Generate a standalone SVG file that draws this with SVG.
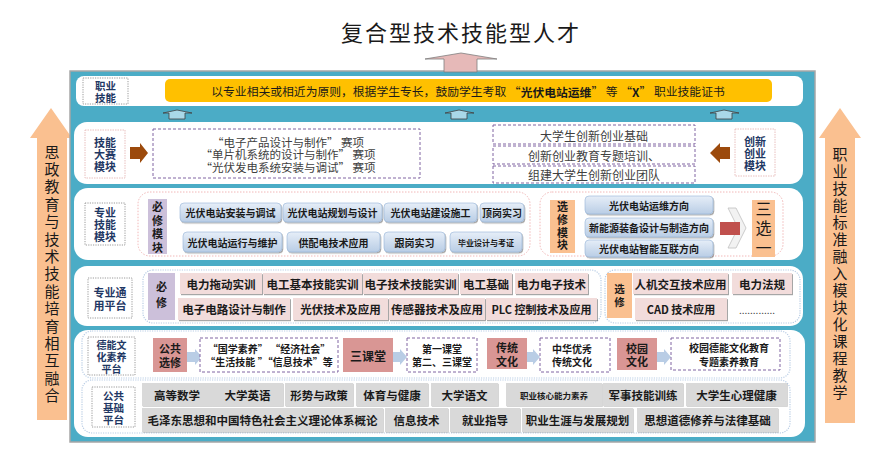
<svg xmlns="http://www.w3.org/2000/svg" width="872" height="455" viewBox="0 0 872 455">
<defs>
<style>
text{font-family:"Noto Sans CJK SC","Noto Sans",sans-serif;text-anchor:middle;dominant-baseline:central;fill:#1a1a1a}
text.v{writing-mode:vertical-rl;text-anchor:start}
.b{font-weight:700}
.nv{fill:#1F3864;font-weight:700}
.g4{fill:#404040}
.band{fill:#fff}
.lbl{fill:#fff;stroke:#808080;stroke-width:0.8;stroke-dasharray:1.2 1.2}
.lblp{fill:#fff;stroke:#E6B9B8;stroke-width:0.9;stroke-dasharray:1.5 1}
.dp{fill:#fff;stroke:#8064A2;stroke-width:1;stroke-dasharray:3 2}
.pk{fill:none;stroke:#F2B8B8;stroke-width:1;stroke-dasharray:1.5 1.5}
.bl{fill:none;stroke:#B9CDE5;stroke-width:1.2;stroke-dasharray:1.2 1.2}
.bb{fill:url(#gb);stroke:#95B3D7;stroke-width:0.6;filter:url(#sh)}
.pb{fill:#F2DCDB;filter:url(#sh)}
.gr{fill:#D9D9D9;filter:url(#sh2)}
.pur{fill:#CCC0DA}
.org{fill:#FAC090}
.red{fill:#D99694}
.ua{fill:#A9D8E8;stroke:#404040;stroke-width:0.8}
.ra{fill:#B9CDE5}
.br{fill:#9C4A0C}
</style>
<linearGradient id="gb" x1="0" y1="0" x2="0" y2="1"><stop offset="0" stop-color="#E6EEF8"/><stop offset="1" stop-color="#B9CDE5"/></linearGradient>
<filter id="sh" x="-10%" y="-20%" width="130%" height="160%"><feDropShadow dx="1" dy="1.2" stdDeviation="0.6" flood-color="#000" flood-opacity="0.35"/></filter>
<filter id="sh2" x="-10%" y="-20%" width="130%" height="160%"><feDropShadow dx="0.8" dy="0.8" stdDeviation="0.5" flood-color="#000" flood-opacity="0.2"/></filter>
</defs>
<rect width="872" height="455" fill="#fff"/>

<!-- side arrows -->
<g id="left-arrow">
<polygon points="30,138 51,108 72,138 67,138 67,420 37,420 37,138" fill="#FAC090"/>
<text class="v" x="52" y="144.5" font-size="15" letter-spacing="2.4" fill="#262626">思政教育与技术技能培育相互融合</text>
</g>
<g id="right-arrow">
<polygon points="819,138 840,108 861,138 855,138 855,423 825,423 825,138" fill="#FAC090"/>
<text class="v" x="840" y="146.5" font-size="15" letter-spacing="2" fill="#262626">职业技能标准融入模块化课程教学</text>
</g>

<!-- title -->
<g id="title">
<text x="461" y="31" font-size="22" fill="#262626" letter-spacing="2">复合型技术技能型人才</text>
</g>

<!-- main panel -->
<rect x="70" y="71" width="745" height="371" fill="#4BACC6" stroke="#A6A6A6" stroke-width="1.5"/>
<rect x="76" y="76" width="727" height="30" rx="8" class="band"/>
<rect x="74" y="122" width="729" height="62" rx="13" class="band"/>
<rect x="74" y="188" width="729" height="72" rx="14" class="band"/>
<rect x="74" y="266" width="729" height="60" rx="13" class="band"/>
<rect x="74" y="330" width="731" height="107" rx="14" class="band"/>

<!-- sub panels -->
<rect x="138" y="192" width="392" height="64" rx="12" class="pk"/>
<rect x="540" y="192" width="243" height="64" rx="12" class="pk"/>
<rect x="143" y="270" width="458" height="53" rx="10" class="bl"/>
<rect x="605" y="270" width="195" height="53" rx="10" class="bl"/>
<rect x="82" y="331" width="708" height="47" rx="10" class="bl"/>
<rect x="82" y="380" width="708" height="53" rx="10" class="bl"/>

<!-- connectors -->
<g id="connectors">
<polygon points="425,59 461,53 497,59 477,59 477,72 444,72 444,59" fill="#E6B9B8" stroke="#7F7F7F" stroke-width="0.8"/>
<polygon class="ua" points="163,113 177,110 192,113 185,113 185,119 169,119 169,113"/>
<polygon class="ua" points="445,113 459,110 474,113 467,113 467,119 451,119 451,113"/>
<polygon class="ua" points="710,113 724,110 739,113 732,113 732,119 716,119 716,113"/>
<polygon class="br" points="130,147 140,147 140,143 148,153 140,163 140,159 130,159"/>
<polygon class="br" points="730,147 720,147 720,143 710,153 720,163 720,159 730,159"/>
<polygon points="728,208 736,208 746,228 736,248 728,248 738,228" fill="#F2F2F2" stroke="#BFBFBF" stroke-width="0.8"/>
<rect x="720" y="222" width="20" height="13" fill="#C0504D"/>
<polygon class="ra" points="187,352 195,352 195,349 202,357 195,365 195,362 187,362"/>
<polygon class="ra" points="393,352 400,352 400,349 407,357 400,365 400,362 393,362"/>
<polygon class="ra" points="527,352 533,352 533,349 540,357 533,365 533,362 527,362"/>
<polygon class="ra" points="657,352 664,352 664,349 671,357 664,365 664,362 657,362"/>
</g>

<!-- row 1 -->
<g id="lbl-zhiye">
<rect x="83" y="78" width="45" height="26" class="lbl"/>
<text x="105.5" y="85" font-size="10.5" class="nv">职业</text>
<text x="105.5" y="97" font-size="10.5" class="nv">技能</text>
</g>
<g id="cert">
<rect x="165" y="79" width="607" height="23" rx="5" fill="#FFC000"/>
<text x="468" y="90.5" font-size="11.8" fill="#262626">以专业相关或相近为原则，根据学生专长，鼓励学生考取 “<tspan font-weight="700">光伏电站运维</tspan>” 等 “<tspan font-weight="700">X</tspan>” 职业技能证书</text>
</g>

<!-- row 2 -->
<g id="lbl-jineng">
<rect x="85" y="130" width="40" height="48" class="lblp"/>
<text x="105" y="142" font-size="11" class="nv">技能</text>
<text x="105" y="154" font-size="11" class="nv">大赛</text>
<text x="105" y="166" font-size="11" class="nv">模块</text>
</g>
<g id="contests">
<rect x="153" y="129" width="267" height="49" class="dp"/>
<text x="288" y="141.5" font-size="11.5" class="g4">“电子产品设计与制作” 赛项</text>
<text x="288" y="154" font-size="11.5" class="g4">“单片机系统的设计与制作” 赛项</text>
<text x="288" y="166.5" font-size="11.5" class="g4">“光伏发电系统安装与调试” 赛项</text>
</g>
<g id="innov1"><rect x="493" y="125" width="202" height="19" class="dp"/><text x="594" y="135" font-size="12" class="g4">大学生创新创业基础</text></g>
<g id="innov2"><rect x="493" y="146" width="202" height="18" class="dp"/><text x="594" y="155" font-size="12" class="g4">创新创业教育专题培训、</text></g>
<g id="innov3"><rect x="493" y="166" width="202" height="17" class="dp"/><text x="594" y="174.5" font-size="12" class="g4">组建大学生创新创业团队</text></g>
<g id="lbl-chuangxin">
<rect x="735" y="129" width="40" height="47" class="lblp"/>
<text x="755" y="140.5" font-size="11" class="nv">创新</text>
<text x="755" y="152.5" font-size="11" class="nv">创业</text>
<text x="755" y="164.5" font-size="11" class="nv">模块</text>
</g>

<!-- row 3 -->
<g id="lbl-zhuanye">
<rect x="85" y="203" width="40" height="42" class="lbl"/>
<text x="105" y="212" font-size="11" class="nv">专业</text>
<text x="105" y="224" font-size="11" class="nv">技能</text>
<text x="105" y="236" font-size="11" class="nv">模块</text>
</g>
<g id="bixiu1">
<rect x="148" y="199" width="19" height="55" class="pur"/>
<text class="v b" x="157.5" y="201.5" font-size="11" letter-spacing="2.5">必修模块</text>
</g>
<g id="c1"><rect x="180" y="203" width="101" height="19" rx="4" class="bb"/><text x="230.5" y="212.5" font-size="10" class="b">光伏电站安装与调试</text></g>
<g id="c2"><rect x="283" y="203" width="99" height="19" rx="4" class="bb"/><text x="332.5" y="212.5" font-size="10" class="b">光伏电站规划与设计</text></g>
<g id="c3"><rect x="384" y="203" width="93" height="19" rx="4" class="bb"/><text x="430.5" y="212.5" font-size="10" class="b">光伏电站建设施工</text></g>
<g id="c4"><rect x="480" y="203" width="44" height="19" rx="4" class="bb"/><text x="502" y="212.5" font-size="10" class="b">顶岗实习</text></g>
<g id="c5"><rect x="183" y="232" width="99" height="20" rx="4" class="bb"/><text x="232.5" y="242" font-size="10" class="b">光伏电站运行与维护</text></g>
<g id="c6"><rect x="287" y="232" width="93" height="20" rx="4" class="bb"/><text x="333.5" y="242" font-size="10" class="b">供配电技术应用</text></g>
<g id="c7"><rect x="384" y="232" width="61" height="20" rx="4" class="bb"/><text x="414.5" y="242" font-size="10" class="b">跟岗实习</text></g>
<g id="c8"><rect x="450" y="232" width="72" height="20" rx="4" class="bb"/><text x="486" y="242" font-size="8" class="b">毕业设计与考证</text></g>
<g id="xuanxiu1">
<rect x="550" y="200" width="25" height="53" class="org"/>
<text class="v b" x="562.5" y="201.5" font-size="11" letter-spacing="1.7">选修模块</text>
</g>
<g id="d1"><rect x="585" y="196" width="128" height="18" rx="4" class="bb"/><text x="649" y="205" font-size="10" class="b">光伏电站运维方向</text></g>
<g id="d2"><rect x="585" y="218" width="128" height="19" rx="4" class="bb"/><text x="649" y="227.5" font-size="10" class="b">新能源装备设计与制造方向</text></g>
<g id="d3"><rect x="585" y="240" width="128" height="17" rx="4" class="bb"/><text x="649" y="248.5" font-size="10" class="b">光伏电站智能互联方向</text></g>
<g id="sanxuanyi">
<rect x="752" y="200" width="23" height="57" class="org"/>
<text class="v" x="763.5" y="200.5" font-size="16" letter-spacing="3.5" fill="#262626">三选一</text>
</g>

<!-- row 4 -->
<g id="lbl-tongyong">
<rect x="88" y="278" width="44" height="40" class="lbl"/>
<text x="110" y="292" font-size="11" class="nv">专业通</text>
<text x="110" y="305" font-size="11" class="nv">用平台</text>
</g>
<g id="bixiu2">
<rect x="148" y="273" width="27" height="47" class="pur"/>
<text class="v b" x="161.5" y="281.5" font-size="11" letter-spacing="5">必修</text>
</g>
<g id="e1"><rect x="180" y="273" width="82" height="21" class="pb"/><text x="221" y="283.5" font-size="11.5" class="b">电力拖动实训</text></g>
<g id="e2"><rect x="263" y="273" width="99" height="21" class="pb"/><text x="312.5" y="283.5" font-size="11.5" class="b">电工基本技能实训</text></g>
<g id="e3"><rect x="363" y="273" width="95" height="21" class="pb"/><text x="410.5" y="283.5" font-size="11.5" class="b">电子技术技能实训</text></g>
<g id="e4"><rect x="460" y="273" width="52" height="21" class="pb"/><text x="486" y="283.5" font-size="11.5" class="b">电工基础</text></g>
<g id="e5"><rect x="515" y="273" width="73" height="21" class="pb"/><text x="551.5" y="283.5" font-size="11.5" class="b">电力电子技术</text></g>
<g id="e6"><rect x="178" y="298" width="112" height="22" class="pb"/><text x="234" y="309" font-size="11.5" class="b">电子电路设计与制作</text></g>
<g id="e7"><rect x="293" y="298" width="95" height="22" class="pb"/><text x="340.5" y="309" font-size="11.5" class="b">光伏技术及应用</text></g>
<g id="e8"><rect x="389" y="298" width="96" height="22" class="pb"/><text x="437" y="309" font-size="11.5" class="b">传感器技术及应用</text></g>
<g id="e9"><rect x="486" y="298" width="111" height="22" class="pb"/><text x="541.5" y="309" font-size="11" class="b">PLC 控制技术及应用</text></g>
<g id="xuanxiu2">
<rect x="607" y="273" width="25" height="45" class="org"/>
<text class="v b" x="619.5" y="283.7" font-size="10.5" letter-spacing="2.5">选修</text>
</g>
<g id="f1"><rect x="633" y="273" width="95" height="21" class="pb"/><text x="680.5" y="283.5" font-size="11.5" class="b">人机交互技术应用</text></g>
<g id="f2"><rect x="732" y="273" width="60" height="21" class="pb"/><text x="762" y="283.5" font-size="11.5" class="b">电力法规</text></g>
<g id="f3"><rect x="635" y="298" width="92" height="22" class="pb"/><text x="681" y="309" font-size="11" class="b">CAD 技术应用</text></g>
<g id="f4"><text x="757" y="309" font-size="10" class="g4">.............</text></g>

<!-- row 5 -->
<g id="lbl-deneng">
<rect x="88" y="337" width="47" height="38" class="lbl"/>
<text x="111.5" y="344" font-size="10" class="nv">德能文</text>
<text x="111.5" y="356" font-size="10" class="nv">化素养</text>
<text x="111.5" y="368" font-size="10" class="nv">平台</text>
</g>
<g id="g1"><rect x="153" y="338" width="34" height="34" class="red"/><text x="170" y="348" font-size="11" class="b">公共</text><text x="170" y="361.5" font-size="11" class="b">选修</text></g>
<g id="g2"><rect x="200" y="338" width="138" height="34" class="dp"/><text x="269" y="348" font-size="10" class="b">“国学素养” “经济社会”</text><text x="269" y="361.5" font-size="10" class="b">“生活技能 ”“信息技术”等</text></g>
<g id="g3"><rect x="343" y="338" width="50" height="34" class="red"/><text x="368" y="355" font-size="12" class="b">三课堂</text></g>
<g id="g4"><rect x="407" y="338" width="70" height="34" class="dp"/><text x="442" y="348" font-size="10" class="b">第一课堂</text><text x="442" y="361.5" font-size="10" class="b">第二、三课堂</text></g>
<g id="g5"><rect x="487" y="338" width="40" height="31" class="red"/><text x="507" y="347" font-size="11" class="b">传统</text><text x="507" y="360.5" font-size="11" class="b">文化</text></g>
<g id="g6"><rect x="540" y="338" width="70" height="34" class="dp"/><text x="572" y="348" font-size="10" class="b">中华优秀</text><text x="572" y="361.5" font-size="10" class="b">传统文化</text></g>
<g id="g7"><rect x="617" y="338" width="40" height="32" class="red"/><text x="637" y="347.5" font-size="11" class="b">校园</text><text x="637" y="361" font-size="11" class="b">文化</text></g>
<g id="g8"><rect x="671" y="338" width="109" height="32" class="dp"/><text x="729" y="347.5" font-size="10" class="b">校园德能文化教育</text><text x="729" y="361" font-size="10" class="b">专题素养教育</text></g>

<!-- row 6 -->
<g id="lbl-gonggong">
<rect x="92" y="387" width="43" height="40" class="lbl"/>
<text x="113.5" y="395" font-size="10.5" class="nv">公共</text>
<text x="113.5" y="407" font-size="10.5" class="nv">基础</text>
<text x="113.5" y="419" font-size="10.5" class="nv">平台</text>
</g>
<g id="h1"><rect x="142" y="383" width="70" height="23" class="gr"/><text x="177" y="394.5" font-size="11.5" class="b">高等数学</text></g>
<g id="h2"><rect x="212" y="383" width="71" height="23" class="gr"/><text x="247.5" y="394.5" font-size="11.5" class="b">大学英语</text></g>
<g id="h3"><rect x="285" y="383" width="68" height="23" class="gr"/><text x="319" y="394.5" font-size="11.5" class="b">形势与政策</text></g>
<g id="h4"><rect x="356" y="383" width="72" height="23" class="gr"/><text x="392" y="394.5" font-size="11.5" class="b">体育与健康</text></g>
<g id="h5"><rect x="431" y="383" width="67" height="23" class="gr"/><text x="464.5" y="394.5" font-size="11.5" class="b">大学语文</text></g>
<g id="h6"><rect x="506" y="383" width="96" height="23" class="gr"/><text x="554" y="394.5" font-size="8.5" class="b">职业核心能力素养</text></g>
<g id="h7"><rect x="603" y="383" width="80" height="23" class="gr"/><text x="643" y="394.5" font-size="11.5" class="b">军事技能训练</text></g>
<g id="h8"><rect x="686" y="383" width="101" height="23" class="gr"/><text x="736.5" y="394.5" font-size="11.5" class="b">大学生心理健康</text></g>
<g id="h9"><rect x="142" y="408" width="241" height="24" class="gr"/><text x="262.5" y="420" font-size="11.5" class="b">毛泽东思想和中国特色社会主义理论体系概论</text></g>
<g id="h10"><rect x="385" y="408" width="63" height="24" class="gr"/><text x="416.5" y="420" font-size="11.5" class="b">信息技术</text></g>
<g id="h11"><rect x="450" y="408" width="70" height="24" class="gr"/><text x="485" y="420" font-size="11.5" class="b">就业指导</text></g>
<g id="h12"><rect x="522" y="408" width="111" height="24" class="gr"/><text x="577.5" y="420" font-size="11.5" class="b">职业生涯与发展规划</text></g>
<g id="h13"><rect x="637" y="408" width="141" height="24" class="gr"/><text x="707.5" y="420" font-size="11.5" class="b">思想道德修养与法律基础</text></g>
</svg>
